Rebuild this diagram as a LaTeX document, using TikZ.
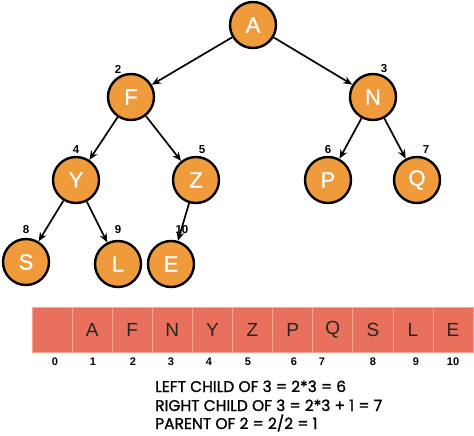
\documentclass[tikz,border=0pt]{standalone}
\usepackage{fontspec}
\setmainfont{Liberation Sans}
\newfontfamily\notefont[FakeBold=1.2]{Poppins}
\newfontfamily\treefont[FakeBold=0.8]{Liberation Sans}
\usetikzlibrary{arrows.meta}
\definecolor{nodeorange}{HTML}{EF9B3C}
\definecolor{cellred}{HTML}{E8705C}
\definecolor{cellline}{HTML}{F2A596}
\tikzset{
  treenode/.style={circle, draw=black, line width=2.4pt, fill=nodeorange, minimum size=46pt, inner sep=0pt, text=white, font=\treefont\fontsize{22}{22}\selectfont},
  idx/.style={font=\bfseries\fontsize{11.5}{11.5}\selectfont, inner sep=0pt},
  edge/.style={line width=1.7pt, -{Stealth[length=9pt,width=7.5pt]}},
  cell/.style={rectangle, fill=cellred, draw=cellline, line width=0.8pt, minimum width=40.1pt, minimum height=45pt, inner sep=0pt, text=black!85, font=\fontsize{19}{19}\selectfont},
  cidx/.style={font=\bfseries\fontsize{11}{11}\selectfont, inner sep=0pt},
  note/.style={anchor=base west, inner sep=0pt, font=\notefont\fontsize{15.5}{15.5}\selectfont}
}
\begin{document}
\begin{tikzpicture}[x=1pt,y=-1pt]
\useasboundingbox (0,0) rectangle (474,436);
% tree nodes
\node[treenode] (A) at (253,25) {A};
\node[treenode] (F) at (131,97) {F};
\node[treenode] (N) at (373,97) {N};
\node[treenode] (Y) at (76,180) {Y};
\node[treenode] (Z) at (196,180) {Z};
\node[treenode] (P) at (328,180) {P};
\node[treenode] (Q) at (417,180) {Q};
\node[treenode] (S) at (26,262) {S};
\node[treenode] (L) at (118,264) {L};
\node[treenode] (E) at (171,264) {E};
% index labels on tree
\node[idx] (i2) at (118,69) {2};
\node[idx] (i3) at (384,69) {3};
\node[idx] (i4) at (76,150) {4};
\node[idx] (i5) at (202,150) {5};
\node[idx] (i6) at (328,150) {6};
\node[idx] (i7) at (426,150) {7};
\node[idx] (i8) at (26,230) {8};
\node[idx] (i9) at (118,230) {9};
\node[idx] (i10) at (182,230) {10};
% edges
\draw[edge] (A) -- (F);
\draw[edge] (A) -- (N);
\draw[edge] (F) -- (Y);
\draw[edge] (F) -- (Z);
\draw[edge] (N) -- (P);
\draw[edge] (N) -- (Q);
\draw[edge] (Y) -- (S);
\draw[edge] (Y) -- (L);
\draw[edge] (Z) -- (E);
% array
\foreach \i/\t in {0/{},1/A,2/F,3/N,4/Y,5/Z,6/P,7/Q,8/S,9/L,10/E}{
  \node[cell] (c\i) at ({32+40.1*\i+20.05},330) {\t};
}
% array indices
\foreach \i/\x in {0/55,1/93,2/133,3/171,4/209,5/248,6/294,7/322,8/373,9/416,10/453}{
  \node[cidx] (k\i) at (\x,362) {\i};
}
% notes
\node[note] (n1) at (155,392) {LEFT CHILD OF 3 = 2*3 = 6};
\node[note] (n2) at (155,411) {RIGHT CHILD OF 3 = 2*3 + 1 = 7};
\node[note] (n3) at (155,429) {PARENT OF 2 = 2/2 = 1};
\end{tikzpicture}
\end{document}
